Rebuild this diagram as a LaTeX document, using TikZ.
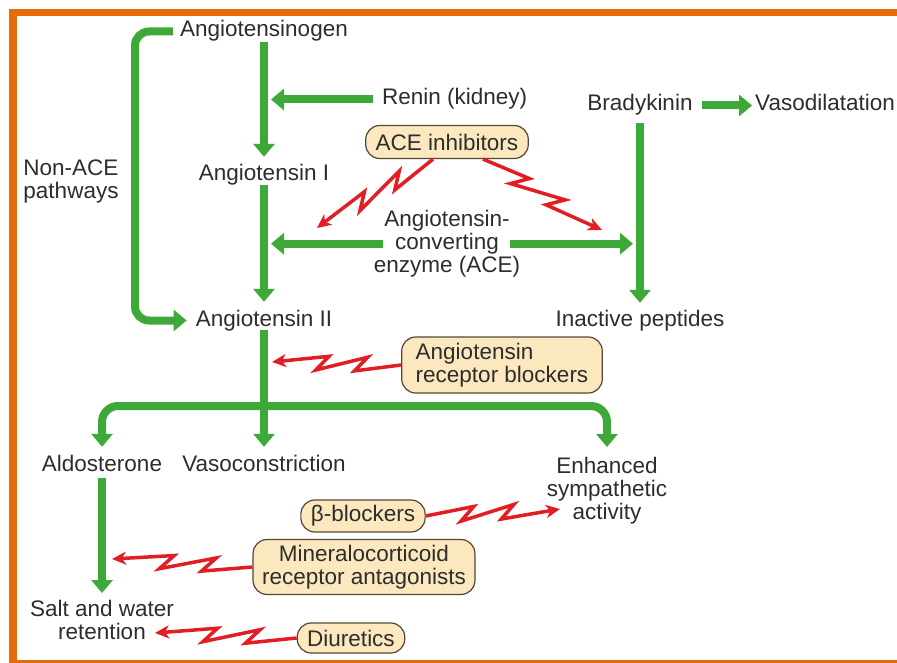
\documentclass[tikz,border=0pt]{standalone}
\usepackage{fontspec}
\setmainfont{Liberation Sans}
\usetikzlibrary{arrows.meta,calc}
\definecolor{gr}{RGB}{60,169,57}
\definecolor{rd}{RGB}{226,30,36}
\definecolor{og}{RGB}{228,108,10}
\definecolor{bxf}{RGB}{251,232,190}
\definecolor{bxd}{RGB}{85,72,55}
\definecolor{tx}{RGB}{45,45,45}
\begin{document}
\begin{tikzpicture}[x=1pt,y=-1pt,
  font=\fontsize{22.5}{23}\selectfont, text=tx,
  lbl/.style={inner sep=0pt, text height=16pt, text depth=5pt},
  mlbl/.style={inner sep=0pt, align=center},
  garrow/.style={draw=gr, line width=8pt, -{Triangle[length=13pt,width=21pt]}, shorten >=8pt},
  drug/.style={draw=bxd, fill=bxf, line width=1.2pt, rounded corners=14pt,
    inner xsep=10pt, inner ysep=0pt, minimum height=33pt, align=center},
  bolt/.style={draw=rd, line width=3.5pt, line join=miter,
    -{Stealth[length=14pt,width=13pt,inset=4pt]},
    to path={
      -- ($(\tikztostart)!0.36!(\tikztotarget)!7pt!90:(\tikztotarget)$)
      -- ($(\tikztostart)!0.26!(\tikztotarget)!7pt!-90:(\tikztotarget)$)
      -- ($(\tikztostart)!0.66!(\tikztotarget)!7pt!90:(\tikztotarget)$)
      -- ($(\tikztostart)!0.56!(\tikztotarget)!7pt!-90:(\tikztotarget)$)
      -- (\tikztotarget) \tikztonodes}}
]
\useasboundingbox (0,0) rectangle (897,663);
\fill[white] (0,0) rectangle (897,663);
\fill[og] (9,9) rectangle (897,16);
\fill[og] (9,9) rectangle (17,663);
\fill[og] (9,660) rectangle (897,663);

% nodes
\node[lbl] (agen) at (264,31.5) {Angiotensinogen};
\node[lbl,anchor=west] (renin) at (382,99.5) {Renin (kidney)};
\node[lbl] (ang1) at (264,175.5) {Angiotensin I};
\node[mlbl,anchor=north] (nonace) at (71,160) {Non-ACE\\pathways};
\node[lbl] (ang2) at (264,320.5) {Angiotensin II};
\node[drug] (inhib) at (447,142) {ACE inhibitors};
\node[mlbl,anchor=north] (ace) at (447,210) {Angiotensin-\\converting\\enzyme (ACE)};
\node[lbl] (brady) at (640,105.5) {Bradykinin};
\node[lbl,anchor=west] (vaso) at (755,105.5) {Vasodilatation};
\node[lbl] (inact) at (640,320.5) {Inactive peptides};
\node[drug, align=left, minimum height=56pt, inner xsep=14pt] (arb) at (502,365) {Angiotensin\\receptor blockers};
\node[lbl] (aldo) at (102,465.5) {Aldosterone};
\node[lbl] (vcon) at (264,465.5) {Vasoconstriction};
\node[mlbl,anchor=north] (symp) at (607,457) {Enhanced\\sympathetic\\activity};
\node[drug, minimum height=32pt] (beta) at (363,516) {β-blockers};
\node[drug, minimum height=55pt, inner xsep=9pt] (mr) at (364,567) {Mineralocorticoid\\receptor antagonists};
\node[mlbl,anchor=north] (salt) at (102,600) {Salt and water\\retention};
\node[drug, minimum height=30pt] (diur) at (351,638) {Diuretics};

% helper coordinates
\coordinate (vl) at (271,0);
\coordinate (vr) at (633,0);
\coordinate (split) at (264,406);

% green connectors
\draw[garrow] (agen.south) -- (ang1.north);
\draw[garrow, shorten <=-1pt] (ang1.south) -- (ang2.north);
\draw[garrow, rounded corners=14pt, shorten >=9pt] ([xshift=-7pt]agen.west) -| (135,320.5) -- (ang2.west);
\draw[garrow, shorten >=0pt, shorten <=9pt] (renin.west) -- (renin.west -| vl);
\draw[garrow, shorten >=0pt] ([xshift=9pt]ace.west) -- (ace.west -| vl);
\draw[garrow, shorten >=0pt] ([xshift=-10pt]ace.east) -- (ace.east -| vr);
\draw[garrow, shorten <=7pt, shorten >=7pt] (brady.south) -- (inact.north);
\draw[garrow, shorten <=9pt, shorten >=3pt] (brady.east) -- (vaso.west);
\draw[garrow, shorten <=-1pt] (ang2.south) -- (vcon.north);
\draw[garrow, rounded corners=16pt] (split) -| (aldo.north);
\draw[garrow, rounded corners=16pt, shorten >=10pt] (split) -| (symp.north);
\draw[garrow, shorten <=2pt, shorten >=7pt] (aldo.south) -- (salt.north);

% red inhibition bolts
\coordinate (s1) at ([xshift=-14pt]inhib.south);
\coordinate (s2) at ([xshift=36pt]inhib.south);
\coordinate (t1) at (317,228);
\coordinate (t2) at (602,230);
\coordinate (t3) at (272,362);
\coordinate (t4) at (560,509);
\coordinate (t5) at (112,559);
\coordinate (t6) at (155,633);
\draw[bolt] (s1) to (t1);
\draw[bolt] (s2) to (t2);
\draw[bolt] (arb.west) to (t3);
\draw[bolt] (beta.east) to (t4);
\draw[bolt] (mr.west) to (t5);
\draw[bolt] (diur.west) to (t6);
\end{tikzpicture}
\end{document}
